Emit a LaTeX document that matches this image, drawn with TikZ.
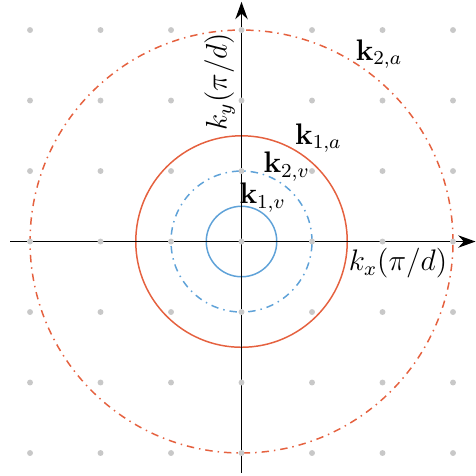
\documentclass[tikz,border=0pt]{standalone}
\usepackage{amsmath,amssymb}
\usepackage{tikz}
\usetikzlibrary{arrows.meta,positioning}
\usepackage{xcolor}
\definecolor{acoustic}{HTML}{E5613F}
\definecolor{vortex}{HTML}{5FA2D8}
\definecolor{lattice}{HTML}{C8C8C8}
\tikzset{axisline/.style={line width=.6pt,black,-{Stealth[length=7pt,width=5pt]}},
 latticept/.style={fill=lattice,draw=none},
 aring/.style={draw=acoustic,line width=.6pt},
 vring/.style={draw=vortex,line width=.6pt},
 ringlabel/.style={inner sep=1pt,font=\large}}

\begin{document}
\begin{tikzpicture}[x=1cm,y=1cm]
\useasboundingbox (-3.426,-3.326) rectangle (3.326,3.426);
% rings
\draw[vring] (0,0) circle (0.5);
\draw[vring,dash dot] (0,0) circle (1);
\draw[aring] (0,0) circle (1.5);
\draw[aring,dash dot] (0,0) circle (3);
% axes
\coordinate (xl) at (-3.28,0);
\coordinate (xr) at (3.32,0);
\coordinate (yb) at (0,-3.28);
\coordinate (yt) at (0,3.40);
\draw[axisline] (xl) -- (xr);
\draw[axisline] (yb) -- (yt);
% lattice points
\foreach \i in {-3,...,3}
  \foreach \j in {-3,...,3}
    \fill[latticept] (\i,\j) circle (1.2pt);
% labels
\node[ringlabel] (kx) at (2.22,-0.31) {$k_x(\pi/d)$};
\node[ringlabel,rotate=90] (ky) at (-0.31,2.27) {$k_y(\pi/d)$};
\node[ringlabel] (k2a) at (1.95,2.66) {$\mathbf{k}_{2,a}$};
\node[ringlabel] (k1a) at (1.09,1.47) {$\mathbf{k}_{1,a}$};
\node[ringlabel] (k2v) at (0.64,1.06) {$\mathbf{k}_{2,v}$};
\node[ringlabel] (k1v) at (0.30,0.62) {$\mathbf{k}_{1,v}$};
\end{tikzpicture}
\end{document}
